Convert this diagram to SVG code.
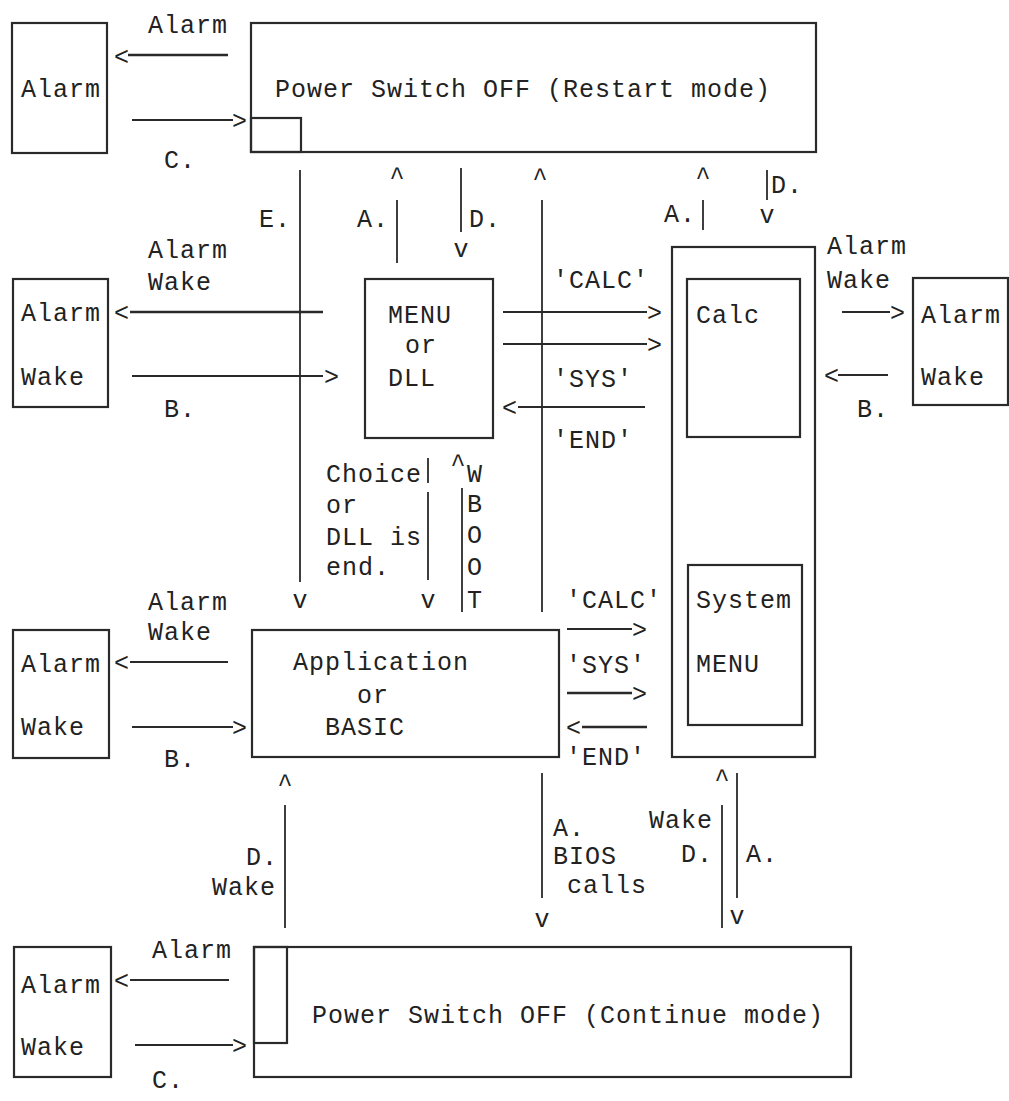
<svg xmlns="http://www.w3.org/2000/svg" width="1009" height="1101" viewBox="0 0 1009 1101">
<style>
.bg{fill:#ffffff}
.box{fill:none;stroke:#2a2a2a;stroke-width:2.2}
.ln{fill:none;stroke:#2a2a2a;stroke-width:1.8}
.thk{stroke-width:2.6}
text{font-family:"Liberation Mono","DejaVu Sans Mono",monospace;font-size:25px;letter-spacing:1px;fill:#222}
.mid{text-anchor:middle;letter-spacing:0}
.ah{letter-spacing:0}
</style>
<rect class="bg" x="0" y="0" width="1009" height="1101"/>

<g id="alarm-top">
<rect class="box" x="12" y="23" width="95" height="130"/>
<text x="21" y="97">Alarm</text>
</g>
<g id="power-restart">
<rect class="box" x="251" y="23" width="565" height="129"/>
<rect class="box" x="251" y="118" width="50" height="34"/>
<text x="275" y="97">Power Switch OFF (Restart mode)</text>
</g>
<g id="alarm-wake-left1">
<rect class="box" x="13" y="279" width="95" height="128"/>
<text x="21" y="321">Alarm</text>
<text x="21" y="385">Wake</text>
</g>
<g id="menu-dll">
<rect class="box" x="365" y="279" width="128" height="159"/>
<text x="388" y="323">MENU</text>
<text x="405" y="353">or</text>
<text x="388" y="386">DLL</text>
</g>
<g id="calc-system">
<rect class="box" x="672" y="247" width="143" height="510"/>
<g id="calc">
<rect class="box" x="687" y="279" width="113" height="158"/>
<text x="696" y="323">Calc</text>
</g>
<g id="system-menu">
<rect class="box" x="688" y="565" width="114" height="160"/>
<text x="696" y="608">System</text>
<text x="696" y="672">MENU</text>
</g>
</g>
<g id="alarm-wake-right">
<rect class="box" x="913" y="278" width="95" height="127"/>
<text x="921" y="323">Alarm</text>
<text x="921" y="385">Wake</text>
</g>
<g id="application">
<rect class="box" x="252" y="630" width="307" height="127"/>
<text x="293" y="670">Application</text>
<text x="357" y="703">or</text>
<text x="325" y="735">BASIC</text>
</g>
<g id="alarm-wake-left2">
<rect class="box" x="13" y="630" width="96" height="128"/>
<text x="21" y="672">Alarm</text>
<text x="21" y="735">Wake</text>
</g>
<g id="power-continue">
<rect class="box" x="254" y="947" width="597" height="130"/>
<rect class="box" x="254" y="947" width="33" height="96"/>
<text x="312" y="1023">Power Switch OFF (Continue mode)</text>
</g>
<g id="alarm-wake-left3">
<rect class="box" x="14" y="947" width="97" height="130"/>
<text x="21" y="993">Alarm</text>
<text x="21" y="1055">Wake</text>
</g>

<g id="connectors">
<!-- top row -->
<line class="ln thk" x1="128" y1="55" x2="228" y2="55"/>
<text class="ah" x="114" y="65">&lt;</text>
<text x="148" y="33">Alarm</text>
<line class="ln" x1="132" y1="120" x2="233" y2="120"/>
<text class="ah" x="232" y="129">&gt;</text>
<text x="164" y="168">C.</text>

<!-- verticals below restart -->
<line class="ln" x1="300" y1="170" x2="300" y2="582"/>
<text class="mid" x="300" y="608">v</text>
<text x="259" y="227">E.</text>
<text class="mid" x="397" y="185">^</text>
<line class="ln" x1="397" y1="200" x2="397" y2="263"/>
<text x="357" y="227">A.</text>
<line class="ln" x1="461" y1="168" x2="461" y2="232"/>
<text class="mid" x="461" y="257">v</text>
<text x="469" y="227">D.</text>
<text class="mid" x="540" y="186">^</text>
<line class="ln" x1="542" y1="200" x2="542" y2="612"/>
<text class="mid" x="703" y="185">^</text>
<line class="ln" x1="703" y1="200" x2="703" y2="230"/>
<text x="664" y="222">A.</text>
<line class="ln" x1="767" y1="170" x2="767" y2="200"/>
<text x="771" y="193">D.</text>
<text class="mid" x="767" y="223">v</text>

<!-- row 1 left -->
<text x="148" y="258">Alarm</text>
<text x="148" y="290">Wake</text>
<line class="ln thk" x1="130" y1="312" x2="323" y2="312"/>
<text class="ah" x="114" y="321">&lt;</text>
<line class="ln" x1="132" y1="376" x2="323" y2="376"/>
<text class="ah" x="324" y="385">&gt;</text>
<text x="164" y="417">B.</text>

<!-- menu to calc -->
<text x="553" y="288">'CALC'</text>
<line class="ln" x1="503" y1="312" x2="647" y2="312"/>
<text class="ah" x="647" y="321">&gt;</text>
<line class="ln" x1="503" y1="344" x2="647" y2="344"/>
<text class="ah" x="647" y="353">&gt;</text>
<text x="553" y="387">'SYS'</text>
<line class="ln" x1="518" y1="407" x2="645" y2="407"/>
<text class="ah" x="502" y="416">&lt;</text>
<text x="553" y="448">'END'</text>

<!-- row 1 right -->
<text x="827" y="254">Alarm</text>
<text x="827" y="288">Wake</text>
<line class="ln" x1="842" y1="312" x2="890" y2="312"/>
<text class="ah" x="890" y="321">&gt;</text>
<line class="ln" x1="838" y1="375" x2="888" y2="375"/>
<text class="ah" x="824" y="384">&lt;</text>
<text x="857" y="417">B.</text>

<!-- menu to application -->
<text x="326" y="482">Choice</text>
<text x="326" y="513">or</text>
<text x="326" y="545">DLL is</text>
<text x="326" y="575">end.</text>
<line class="ln" x1="428" y1="458" x2="428" y2="483"/>
<line class="ln" x1="428" y1="492" x2="428" y2="580"/>
<text class="mid" x="428" y="608">v</text>
<text class="mid" x="458" y="472">^</text>
<line class="ln" x1="462" y1="488" x2="462" y2="612"/>
<text x="467" y="482">W</text>
<text x="467" y="512">B</text>
<text x="467" y="543">O</text>
<text x="467" y="575">O</text>
<text x="467" y="608">T</text>

<!-- row 2 left -->
<text x="148" y="610">Alarm</text>
<text x="148" y="640">Wake</text>
<line class="ln" x1="130" y1="662" x2="228" y2="662"/>
<text class="ah" x="114" y="671">&lt;</text>
<line class="ln" x1="132" y1="727" x2="233" y2="727"/>
<text class="ah" x="232" y="736">&gt;</text>
<text x="164" y="767">B.</text>

<!-- application to calc -->
<text x="566" y="608">'CALC'</text>
<line class="ln" x1="567" y1="629" x2="632" y2="629"/>
<text class="ah" x="632" y="638">&gt;</text>
<text x="566" y="673">'SYS'</text>
<line class="ln thk" x1="567" y1="693" x2="632" y2="693"/>
<text class="ah" x="632" y="702">&gt;</text>
<line class="ln thk" x1="582" y1="727" x2="647" y2="727"/>
<text class="ah" x="566" y="736">&lt;</text>
<text x="566" y="765">'END'</text>

<!-- lower verticals -->
<text class="mid" x="285" y="792">^</text>
<line class="ln" x1="285" y1="805" x2="285" y2="928"/>
<text x="246" y="865">D.</text>
<text x="212" y="895">Wake</text>
<line class="ln" x1="542" y1="773" x2="542" y2="898"/>
<text class="mid" x="542" y="927">v</text>
<text x="553" y="836">A.</text>
<text x="553" y="864">BIOS</text>
<text x="567" y="893">calls</text>
<text class="mid" x="722" y="787">^</text>
<line class="ln" x1="722" y1="805" x2="722" y2="928"/>
<text x="649" y="828">Wake</text>
<text x="681" y="862">D.</text>
<line class="ln" x1="737" y1="773" x2="737" y2="898"/>
<text class="mid" x="737" y="924">v</text>
<text x="746" y="862">A.</text>

<!-- bottom row -->
<text x="152" y="958">Alarm</text>
<line class="ln" x1="130" y1="980" x2="229" y2="980"/>
<text class="ah" x="114" y="989">&lt;</text>
<line class="ln" x1="135" y1="1045" x2="233" y2="1045"/>
<text class="ah" x="232" y="1054">&gt;</text>
<text x="152" y="1088">C.</text>
</g>
</svg>
